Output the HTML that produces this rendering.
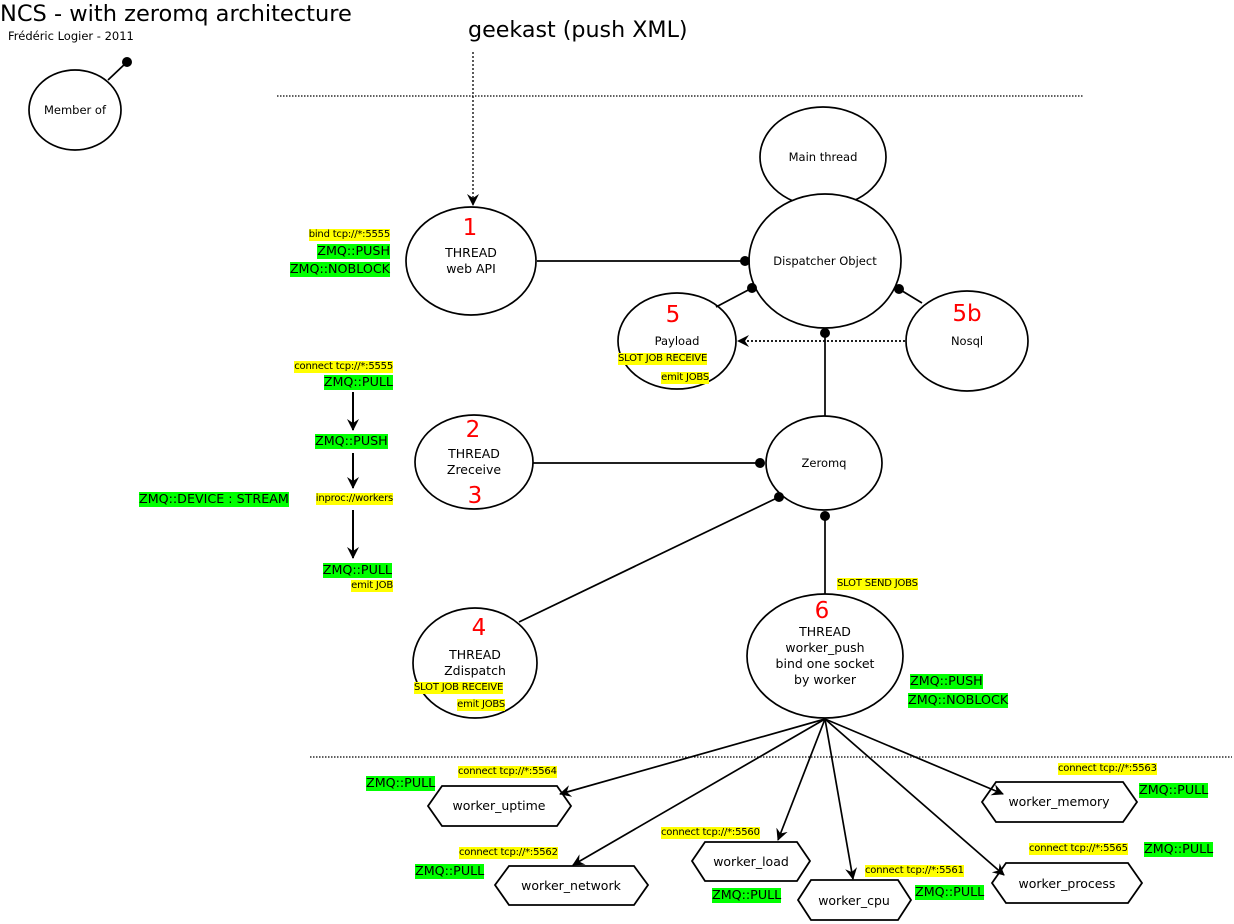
<!DOCTYPE html>
<html><head><meta charset="utf-8"><style>
body{margin:0;width:1234px;height:924px;background:#fff;position:relative;overflow:hidden;font-family:"DejaVu Sans","Liberation Sans",sans-serif}
.l{position:absolute;white-space:nowrap;line-height:1;color:#000}
.y{background:#ff0;font-size:10px;padding:1px 0;letter-spacing:-0.2px}
.g{background:#0f0;font-size:12.7px;padding:1px 0}
svg{position:absolute;left:0;top:0}
svg text{font-family:"DejaVu Sans","Liberation Sans",sans-serif}
</style></head><body>
<svg width="1234" height="924" viewBox="0 0 1234 924">
<defs>
<marker id="a" markerWidth="12" markerHeight="12" refX="11" refY="6" orient="auto" markerUnits="userSpaceOnUse"><path d="M0,0 L12,6 L0,12 L4,6 z" fill="#000"/></marker>
</defs>
<g stroke="#000" fill="none" stroke-width="1.7">
<line x1="277" y1="96" x2="1083" y2="96" stroke-dasharray="1.5,1.5" stroke-width="1.3"/>
<line x1="310" y1="757" x2="1232" y2="757" stroke-dasharray="1.5,1.5" stroke-width="1.3"/>
<line x1="473" y1="52" x2="473" y2="205" stroke-dasharray="2,2" stroke-width="1.3" marker-end="url(#a)"/>
<line x1="905" y1="341" x2="738" y2="341" stroke-dasharray="2,2" marker-end="url(#a)"/>
<line x1="108" y1="80" x2="127" y2="62"/>
<line x1="537" y1="261" x2="745" y2="261"/>
<line x1="716" y1="307" x2="752" y2="288"/>
<line x1="922" y1="303" x2="899" y2="289"/>
<line x1="825" y1="333" x2="825" y2="416"/>
<line x1="533" y1="463" x2="760" y2="463"/>
<line x1="519" y1="622" x2="779" y2="497"/>
<line x1="825" y1="594" x2="825" y2="516"/>
<line x1="353" y1="392" x2="353" y2="430" stroke-width="2" marker-end="url(#a)"/>
<line x1="353" y1="453" x2="353" y2="488" stroke-width="2" marker-end="url(#a)"/>
<line x1="353" y1="510" x2="353" y2="558" stroke-width="2" marker-end="url(#a)"/>
<g marker-end="url(#a)">
<line x1="825" y1="719" x2="560" y2="794"/>
<line x1="825" y1="719" x2="573" y2="865"/>
<line x1="825" y1="719" x2="778" y2="840"/>
<line x1="825" y1="719" x2="853" y2="879"/>
<line x1="825" y1="719" x2="1003" y2="794"/>
<line x1="825" y1="719" x2="1004" y2="875"/>
</g>
<ellipse cx="75" cy="110" rx="46" ry="40"/>
<ellipse cx="823" cy="157" rx="63" ry="50"/>
<ellipse cx="471" cy="261" rx="65" ry="54"/>
<ellipse cx="825" cy="261" rx="76" ry="67" fill="#fff"/>
<ellipse cx="677" cy="341" rx="59" ry="48"/>
<ellipse cx="967" cy="341" rx="61" ry="50"/>
<ellipse cx="474" cy="462" rx="59" ry="47"/>
<ellipse cx="824" cy="463" rx="58" ry="47"/>
<ellipse cx="475" cy="663" rx="62" ry="55"/>
<ellipse cx="825" cy="656" rx="78" ry="62"/>
<g stroke-width="1.8">
<polygon points="442,786 557,786 571,806 557,826 442,826 428,806"/>
<polygon points="509,866 634,866 648,885 634,905 509,905 495,885"/>
<polygon points="705,842 797,842 810,861 797,881 705,881 692,861"/>
<polygon points="811,880 898,880 911,900 898,920 811,920 798,900"/>
<polygon points="996,782 1123,782 1137,802 1123,822 996,822 982,802"/>
<polygon points="1006,863 1128,863 1142,883 1128,903 1006,903 992,883"/>
</g>
</g>
<g fill="#000">
<circle cx="127" cy="62" r="5"/>
<circle cx="745" cy="261" r="5"/>
<circle cx="752" cy="288" r="5"/>
<circle cx="899" cy="289" r="5"/>
<circle cx="825" cy="333" r="5"/>
<circle cx="760" cy="463" r="5"/>
<circle cx="779" cy="497" r="5"/>
<circle cx="825" cy="516" r="5"/>
</g>
<g font-size="12.5" text-anchor="middle" fill="#000">
<text x="75" y="114" font-size="11.5">Member of</text>
<text x="823" y="161" font-size="11.5">Main thread</text>
<text x="471" y="257">THREAD</text><text x="471" y="273">web API</text>
<text x="825" y="265" font-size="11.5">Dispatcher Object</text>
<text x="677" y="345" font-size="11.5">Payload</text>
<text x="967" y="345" font-size="11.5">Nosql</text>
<text x="474" y="458">THREAD</text><text x="474" y="474">Zreceive</text>
<text x="824" y="467" font-size="11.5">Zeromq</text>
<text x="475" y="659">THREAD</text><text x="475" y="675">Zdispatch</text>
<text x="825" y="636">THREAD</text><text x="825" y="652">worker_push</text><text x="825" y="668">bind one socket</text><text x="825" y="684">by worker</text>
<text x="499" y="810">worker_uptime</text>
<text x="571" y="890">worker_network</text>
<text x="751" y="866">worker_load</text>
<text x="854" y="905">worker_cpu</text>
<text x="1059" y="806">worker_memory</text>
<text x="1067" y="888">worker_process</text>
</g>
<g font-size="23" text-anchor="middle" fill="#f00">
<text x="470" y="235">1</text>
<text x="673" y="322">5</text>
<text x="967" y="321">5b</text>
<text x="473" y="437">2</text>
<text x="475" y="503">3</text>
<text x="479" y="635">4</text>
<text x="822" y="618">6</text>
</g>
<text x="0" y="21" font-size="22.5" fill="#000">NCS - with zeromq architecture</text>
<text x="8" y="40" font-size="11.5" fill="#000">Frédéric Logier - 2011</text>
<text x="468" y="37" font-size="22.2" fill="#000">geekast (push XML)</text>
</svg>
<div class="l y" style="right:844px;top:229px">bind tcp://*:5555</div>
<div class="l g" style="right:844px;top:244px">ZMQ::PUSH</div>
<div class="l g" style="right:844px;top:262px">ZMQ::NOBLOCK</div>
<div class="l y" style="right:841px;top:361px">connect tcp://*:5555</div>
<div class="l g" style="right:841px;top:375px">ZMQ::PULL</div>
<div class="l g" style="left:315px;top:434px">ZMQ::PUSH</div>
<div class="l g" style="left:139px;top:492px">ZMQ::DEVICE : STREAM</div>
<div class="l y" style="right:841px;top:493px">inproc://workers</div>
<div class="l g" style="right:842px;top:563px">ZMQ::PULL</div>
<div class="l y" style="right:841px;top:580px">emit JOB</div>
<div class="l y" style="left:618px;top:353px">SLOT JOB RECEIVE</div>
<div class="l y" style="right:525px;top:372px">emit JOBS</div>
<div class="l y" style="left:414px;top:682px">SLOT JOB RECEIVE</div>
<div class="l y" style="right:729px;top:699px">emit JOBS</div>
<div class="l y" style="left:837px;top:578px">SLOT SEND JOBS</div>
<div class="l g" style="left:910px;top:674px">ZMQ::PUSH</div>
<div class="l g" style="left:908px;top:693px">ZMQ::NOBLOCK</div>
<div class="l y" style="left:458px;top:766px">connect tcp://*:5564</div>
<div class="l g" style="left:366px;top:776px">ZMQ::PULL</div>
<div class="l y" style="left:459px;top:847px">connect tcp://*:5562</div>
<div class="l g" style="left:415px;top:864px">ZMQ::PULL</div>
<div class="l y" style="left:661px;top:827px">connect tcp://*:5560</div>
<div class="l g" style="left:712px;top:888px">ZMQ::PULL</div>
<div class="l y" style="left:865px;top:865px">connect tcp://*:5561</div>
<div class="l g" style="left:915px;top:885px">ZMQ::PULL</div>
<div class="l y" style="left:1058px;top:763px">connect tcp://*:5563</div>
<div class="l g" style="left:1139px;top:783px">ZMQ::PULL</div>
<div class="l y" style="left:1029px;top:843px">connect tcp://*:5565</div>
<div class="l g" style="left:1144px;top:842px">ZMQ::PULL</div>
</body></html>
